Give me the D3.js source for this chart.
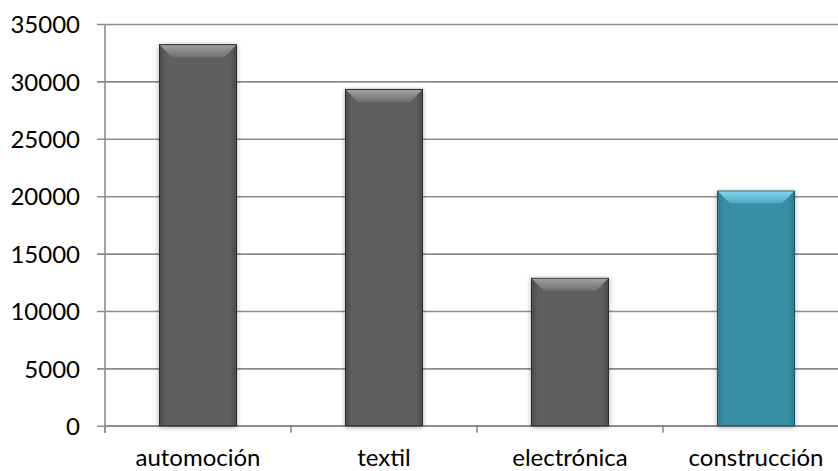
<!DOCTYPE html>
<html>
<head>
<meta charset="utf-8">
<script src="https://cdn.jsdelivr.net/npm/d3@7"></script>
<style>
  html, body { margin: 0; padding: 0; background: #fff; overflow: hidden; }
  svg text { font-family: Lato, "Open Sans", sans-serif; fill: #000; }
</style>
</head>
<body>
<svg id="chart" width="838" height="471"></svg>
<script>
const categories = ["automoción", "textil", "electrónica", "construcción"];
const values = [33200, 29300, 12850, 20450];
const yTicks = [0, 5000, 10000, 15000, 20000, 25000, 30000, 35000];
const highlighted = ["construcción"];

const svg = d3.select("#chart");
const margin = { left: 105, top: 24, bottom: 45 };
const plotRight = 849;
const height = 471;

const x = d3.scaleBand()
  .domain(categories)
  .range([margin.left, plotRight])
  .paddingInner(0.586)
  .paddingOuter(0.293);

const y = d3.scaleLinear()
  .domain([0, 35000])
  .range([height - margin.bottom - 0.2, margin.top]);

const defs = svg.append("defs");

const shadow = defs.append("filter").attr("id", "barShadow")
  .attr("x", "-20%").attr("y", "-10%").attr("width", "140%").attr("height", "120%");
shadow.append("feGaussianBlur").attr("in", "SourceAlpha").attr("stdDeviation", 2.5).attr("result", "blur");
shadow.append("feOffset").attr("dx", 0).attr("dy", 1).attr("result", "off");
shadow.append("feComponentTransfer").append("feFuncA").attr("type", "linear").attr("slope", 0.35);
const merge = shadow.append("feMerge");
merge.append("feMergeNode");
merge.append("feMergeNode").attr("in", "SourceGraphic");

const palettes = {
  gray: { body: "#5e5e5e", edge: "#2e2e2e", topA: "#a0a0a0", topB: "#707070", side: "#4a4a4a" },
  teal: { body: "#378ca4", edge: "#1d5566", topA: "#85d6ec", topB: "#4aa7c2", side: "#2e7a90" }
};
Object.entries(palettes).forEach(([k, p]) => {
  const g = defs.append("linearGradient").attr("id", "top-" + k)
    .attr("x1", 0).attr("y1", 0).attr("x2", 0).attr("y2", 1);
  g.append("stop").attr("offset", "0%").attr("stop-color", p.topA);
  g.append("stop").attr("offset", "100%").attr("stop-color", p.topB);
  const h = defs.append("linearGradient").attr("id", "body-" + k)
    .attr("x1", 0).attr("y1", 0).attr("x2", 1).attr("y2", 0);
  h.append("stop").attr("offset", "0%").attr("stop-color", p.side);
  h.append("stop").attr("offset", "8%").attr("stop-color", p.body);
  h.append("stop").attr("offset", "92%").attr("stop-color", p.body);
  h.append("stop").attr("offset", "100%").attr("stop-color", p.side);
});

// horizontal gridlines with outer tick marks
const yAxis = d3.axisLeft(y).tickValues(yTicks).tickSize(plotRight - margin.left + 8)
  .tickFormat(d3.format("d"));
const gy = svg.append("g")
  .attr("transform", `translate(${plotRight},0)`)
  .call(yAxis);
gy.select(".domain").remove();
gy.selectAll(".tick line").attr("stroke", "#8c8c8c").attr("stroke-width", 1.6);
gy.selectAll(".tick text")
  .attr("x", -(plotRight - margin.left) - 25)
  .style("font-size", "24px").attr("dy", "0.36em");

// vertical axis line
svg.append("line")
  .attr("x1", margin.left).attr("x2", margin.left)
  .attr("y1", y(35000)).attr("y2", y(0) + 7)
  .attr("stroke", "#8c8c8c").attr("stroke-width", 1.6);

// category axis
const step = x.step();
const gx = svg.append("g");
gx.append("line")
  .attr("x1", margin.left).attr("x2", plotRight)
  .attr("y1", y(0)).attr("y2", y(0))
  .attr("stroke", "#8c8c8c").attr("stroke-width", 1.6);
gx.selectAll("line.cat-tick")
  .data(categories.map((c, i) => margin.left + i * step))
  .join("line").attr("class", "cat-tick")
  .attr("x1", d => d).attr("x2", d => d)
  .attr("y1", y(0)).attr("y2", y(0) + 7)
  .attr("stroke", "#8c8c8c").attr("stroke-width", 1.6);
gx.selectAll("text")
  .data(categories)
  .join("text")
  .attr("x", d => x(d) + x.bandwidth() / 2)
  .attr("y", 466)
  .attr("text-anchor", "middle")
  .style("font-size", "24px")
  .text(d => d);

// bars
const bw = x.bandwidth();
const bevel = 12;
const bars = svg.append("g").selectAll("g.bar")
  .data(categories.map((c, i) => ({ c, v: values[i], k: highlighted.includes(c) ? "teal" : "gray" })))
  .join("g").attr("class", "bar")
  .attr("filter", "url(#barShadow)");

bars.append("rect")
  .attr("x", d => x(d.c))
  .attr("y", d => y(d.v))
  .attr("width", bw)
  .attr("height", d => y(0) - y(d.v))
  .attr("fill", d => `url(#body-${d.k})`)
  .attr("stroke", d => palettes[d.k].edge)
  .attr("stroke-width", 1);

bars.append("path")
  .attr("d", d => {
    const x0 = x(d.c) + 0.5, x1 = x(d.c) + bw - 0.5, t = y(d.v) + 0.5;
    return `M${x0},${t}L${x1},${t}L${x1 - bevel},${t + bevel}L${x0 + bevel},${t + bevel}Z`;
  })
  .attr("fill", d => `url(#top-${d.k})`);
</script>
</body>
</html>
